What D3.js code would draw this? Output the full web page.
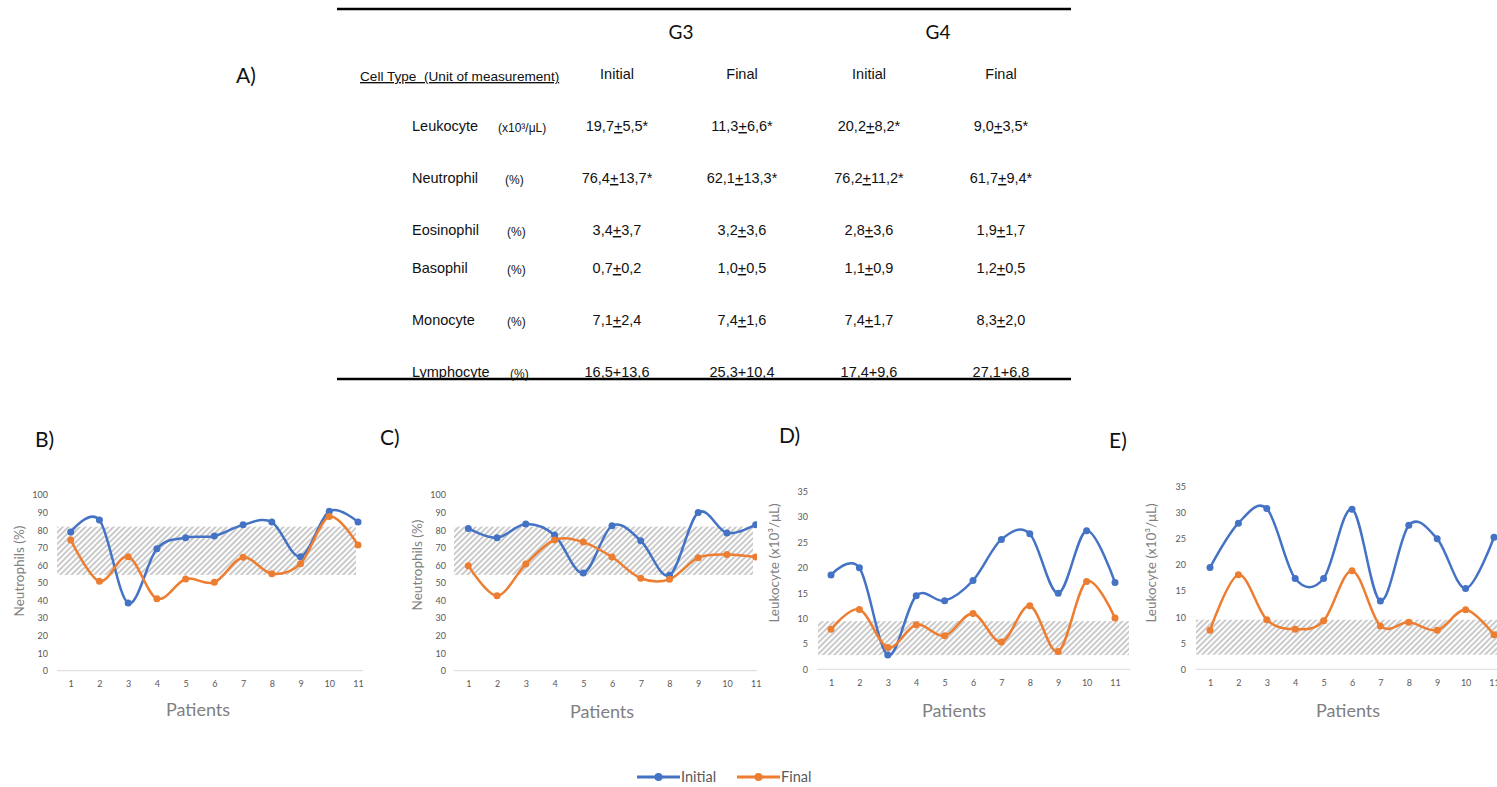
<!DOCTYPE html>
<html>
<head>
<meta charset="utf-8">
<script src="https://cdn.jsdelivr.net/npm/d3@7.9.0/dist/d3.min.js"></script>
<style>
  body { margin: 0; background: #fff; }
  svg { display: block; }
  .tbl text { font-family: "Liberation Sans", Arial, sans-serif; fill: #111; white-space: pre; }
  .cal { font-family: Lato, "Open Sans", sans-serif; }
  .panel text { font-family: Lato, "Open Sans", sans-serif; }
</style>
</head>
<body>
<svg id="fig" width="1497" height="787"></svg>
<script>
// ---- table data ----
const cellTypes = ['Leukocyte', 'Neutrophil', 'Eosinophil', 'Basophil', 'Monocyte', 'Lymphocyte'];
const units = ['(x10³/μL)', '(%)', '(%)', '(%)', '(%)', '(%)'];
const groups = ['G3', 'G4'];
const phases = ['Initial', 'Final', 'Initial', 'Final'];
const g3Initial = ['19,7+5,5*', '76,4+13,7*', '3,4+3,7', '0,7+0,2', '7,1+2,4', '16,5+13,6'];
const g3Final = ['11,3+6,6*', '62,1+13,3*', '3,2+3,6', '1,0+0,5', '7,4+1,6', '25,3+10,4'];
const g4Initial = ['20,2+8,2*', '76,2+11,2*', '2,8+3,6', '1,1+0,9', '7,4+1,7', '17,4+9,6'];
const g4Final = ['9,0+3,5*', '61,7+9,4*', '1,9+1,7', '1,2+0,5', '8,3+2,0', '27,1+6,8'];

// ---- chart data ----
const patients = [1, 2, 3, 4, 5, 6, 7, 8, 9, 10, 11];
const neutG3Initial = [79, 85.8, 38.5, 69.4, 75.7, 76.7, 83, 84.6, 64.9, 90.7, 84.6];
const neutG3Final = [74.4, 50.9, 64.9, 41, 52.2, 50.3, 64.5, 55.2, 60.9, 87.7, 71.5];
const neutG4Initial = [81, 75.7, 83.5, 77.2, 55.6, 82.5, 74, 54.3, 90, 78.4, 83.1];
const neutG4Final = [59.8, 42.7, 60.7, 74.4, 73.2, 64.7, 52.6, 52, 64.3, 66.2, 64.7];
const leukG3Initial = [18.6, 20, 2.8, 14.5, 13.5, 17.5, 25.6, 26.7, 15, 27.3, 17.1];
const leukG3Final = [7.9, 11.8, 4.3, 8.8, 6.6, 11, 5.4, 12.5, 3.5, 17.3, 10.1];
const leukG4Initial = [19.5, 28, 30.8, 17.4, 17.4, 30.7, 13.1, 27.6, 25, 15.5, 25.3];
const leukG4Final = [7.5, 18.1, 9.5, 7.7, 9.3, 18.9, 8.3, 9, 7.5, 11.4, 6.6];
const neutRange = [54.5, 82];
const leukRange = [2.8, 9.5];
const neutTicks = [0, 10, 20, 30, 40, 50, 60, 70, 80, 90, 100];
const leukTicks = [0, 5, 10, 15, 20, 25, 30, 35];
const seriesNames = ['Initial', 'Final'];

const blue = '#4472C4', orange = '#ED7D31';
const svg = d3.select('#fig');

// hatch pattern for reference range
svg.append('defs').append('pattern')
  .attr('id', 'hatch').attr('patternUnits', 'userSpaceOnUse')
  .attr('width', 4).attr('height', 4)
  .attr('patternTransform', 'rotate(45)')
  .append('line').attr('x1', 1).attr('y1', 0).attr('x2', 1).attr('y2', 4)
  .attr('stroke', '#C4C4C4').attr('stroke-width', 1.8);

// ================= TABLE =================
const tbl = svg.append('g').attr('class', 'tbl');
tbl.append('line').attr('x1', 337).attr('x2', 1071).attr('y1', 9).attr('y2', 9)
  .attr('stroke', '#000').attr('stroke-width', 2.5);
tbl.append('line').attr('x1', 337).attr('x2', 1071).attr('y1', 379).attr('y2', 379)
  .attr('stroke', '#000').attr('stroke-width', 2.5);

svg.append('text').attr('class', 'cal').attr('x', 236).attr('y', 83)
  .attr('font-size', 21).attr('fill', '#111').text('A)');

const groupX = [681, 938];
groups.forEach((g, i) => {
  svg.append('text').attr('class', 'cal').attr('x', groupX[i]).attr('y', 39)
    .attr('text-anchor', 'middle').attr('font-size', 19).attr('fill', '#111').text(g);
});

const colX = [617, 742, 869, 1001];
phases.forEach((p, i) => {
  tbl.append('text').attr('x', colX[i]).attr('y', 79).attr('text-anchor', 'middle')
    .attr('font-size', 14.5).text(p);
});
tbl.append('text').attr('x', 360).attr('y', 81).attr('font-size', 13.6)
  .attr('xml:space', 'preserve')
  .style('text-decoration', 'underline').text('Cell Type  (Unit of measurement)');

const rowY = [126, 178, 230, 268, 320, 372];
const unitX = [498, 505, 507, 507, 507, 510];
const columns = [g3Initial, g3Final, g4Initial, g4Final];

cellTypes.forEach((c, r) => {
  tbl.append('text').attr('x', 412).attr('y', rowY[r] + 5).attr('font-size', 14.5).text(c);
  tbl.append('text').attr('x', unitX[r]).attr('y', rowY[r] + 6).attr('font-size', 12).text(units[r]);
  columns.forEach((col, ci) => {
    const [mean, sd] = col[r].split('+');
    const t = tbl.append('text').attr('x', colX[ci]).attr('y', rowY[r] + 5)
      .attr('text-anchor', 'middle').attr('font-size', 14.5);
    t.append('tspan').text(mean);
    t.append('tspan').style('text-decoration', 'underline').text('+');
    t.append('tspan').text(sd);
  });
});

// ================= PANELS =================
const panels = [
  { label: 'B)', lx: 35, ly: 447, init: neutG3Initial, fin: neutG3Final, range: neutRange, ticks: neutTicks, max: 100,
    x1: 70.7, x11: 358, y0: 670.7, yTop: 495, axis: [57, 363], band: [57, 356], tickRight: 48,
    title: 'Neutrophils (%)', tx: 24, ty: 571, px: 198, py: 716, clip: null },
  { label: 'C)', lx: 380, ly: 445, init: neutG4Initial, fin: neutG4Final, range: neutRange, ticks: neutTicks, max: 100,
    x1: 468.3, x11: 755.7, y0: 670.7, yTop: 495, axis: [454, 758], band: [454, 753], tickRight: 446,
    title: 'Neutrophils (%)', tx: 422, ty: 565, px: 602, py: 718, clip: 757 },
  { label: 'D)', lx: 779, ly: 443, init: leukG3Initial, fin: leukG3Final, range: leukRange, ticks: leukTicks, max: 35,
    x1: 831, x11: 1115, y0: 669.3, yTop: 491.7, axis: [817, 1130], band: [818, 1129], tickRight: 808,
    title: 'Leukocyte (x10³/μL)', tx: 779, ty: 563, px: 954, py: 717, clip: null },
  { label: 'E)', lx: 1109, ly: 448, init: leukG4Initial, fin: leukG4Final, range: leukRange, ticks: leukTicks, max: 35,
    x1: 1210, x11: 1494, y0: 669.3, yTop: 486.7, axis: [1196, 1497], band: [1196, 1497], tickRight: 1186,
    title: 'Leukocyte (x10³/μL)', tx: 1156, ty: 563, px: 1348, py: 717, clip: null }
];

panels.forEach((p, pi) => {
  const g = svg.append('g').attr('class', 'panel');
  const x = d3.scaleLinear().domain([patients[0], patients[patients.length - 1]]).range([p.x1, p.x11]);
  const y = d3.scaleLinear().domain([0, p.max]).range([p.y0, p.yTop]);

  g.append('text').attr('x', p.lx).attr('y', p.ly).attr('font-size', 21).attr('fill', '#111').text(p.label);

  let plot = g.append('g');
  if (p.clip) {
    svg.select('defs').append('clipPath').attr('id', 'clip' + pi)
      .append('rect').attr('x', 0).attr('y', 400).attr('width', p.clip).attr('height', 350);
    plot.attr('clip-path', `url(#clip${pi})`);
  }

  // reference band
  plot.append('rect').attr('x', p.band[0]).attr('width', p.band[1] - p.band[0])
    .attr('y', y(p.range[1])).attr('height', y(p.range[0]) - y(p.range[1]))
    .attr('fill', 'url(#hatch)');

  // baseline
  plot.append('line').attr('x1', p.axis[0]).attr('x2', p.axis[1])
    .attr('y1', y(0)).attr('y2', y(0)).attr('stroke', '#D9D9D9').attr('stroke-width', 1);

  // y axis
  const ya = g.append('g').attr('transform', `translate(${p.tickRight + 2},0)`)
    .call(d3.axisLeft(y).tickValues(p.ticks).tickSize(0).tickPadding(2));
  ya.select('.domain').remove();
  ya.selectAll('text').attr('font-size', 9).attr('fill', '#595959').style('font-family', 'Lato, sans-serif');

  // x axis
  const xa = g.append('g').attr('transform', `translate(0,${y(0)})`)
    .call(d3.axisBottom(x).tickValues(patients).tickFormat(d3.format('d')).tickSize(0).tickPadding(10));
  xa.select('.domain').remove();
  xa.selectAll('text').attr('font-size', 9).attr('fill', '#595959').style('font-family', 'Lato, sans-serif');

  g.append('text').attr('transform', `translate(${p.tx},${p.ty}) rotate(-90)`)
    .attr('text-anchor', 'middle').attr('font-size', 13.5).attr('fill', '#7F7F7F').text(p.title);
  g.append('text').attr('x', p.px).attr('y', p.py).attr('text-anchor', 'middle')
    .attr('font-size', 18).attr('fill', '#7F7F7F').text('Patients');

  const line = d3.line().x((d, i) => x(patients[i])).y(d => y(d)).curve(d3.curveCardinal.tension(0));
  [[p.init, blue], [p.fin, orange]].forEach(([vals, col]) => {
    plot.append('path').attr('d', line(vals)).attr('fill', 'none')
      .attr('stroke', col).attr('stroke-width', 2.5);
    plot.selectAll(null).data(vals).enter().append('circle')
      .attr('cx', (d, i) => x(patients[i])).attr('cy', d => y(d)).attr('r', 3.5).attr('fill', col);
  });
});

// ================= LEGEND =================
const leg = svg.append('g').attr('class', 'panel');
const legX = [637, 737];
seriesNames.forEach((s, i) => {
  const col = i === 0 ? blue : orange;
  leg.append('line').attr('x1', legX[i]).attr('x2', legX[i] + 43).attr('y1', 777).attr('y2', 777)
    .attr('stroke', col).attr('stroke-width', 3);
  leg.append('circle').attr('cx', legX[i] + 21.5).attr('cy', 777).attr('r', 4).attr('fill', col);
  leg.append('text').attr('x', legX[i] + 44).attr('y', 782).attr('font-size', 14.5)
    .attr('fill', '#595959').text(s);
});
</script>
</body>
</html>
